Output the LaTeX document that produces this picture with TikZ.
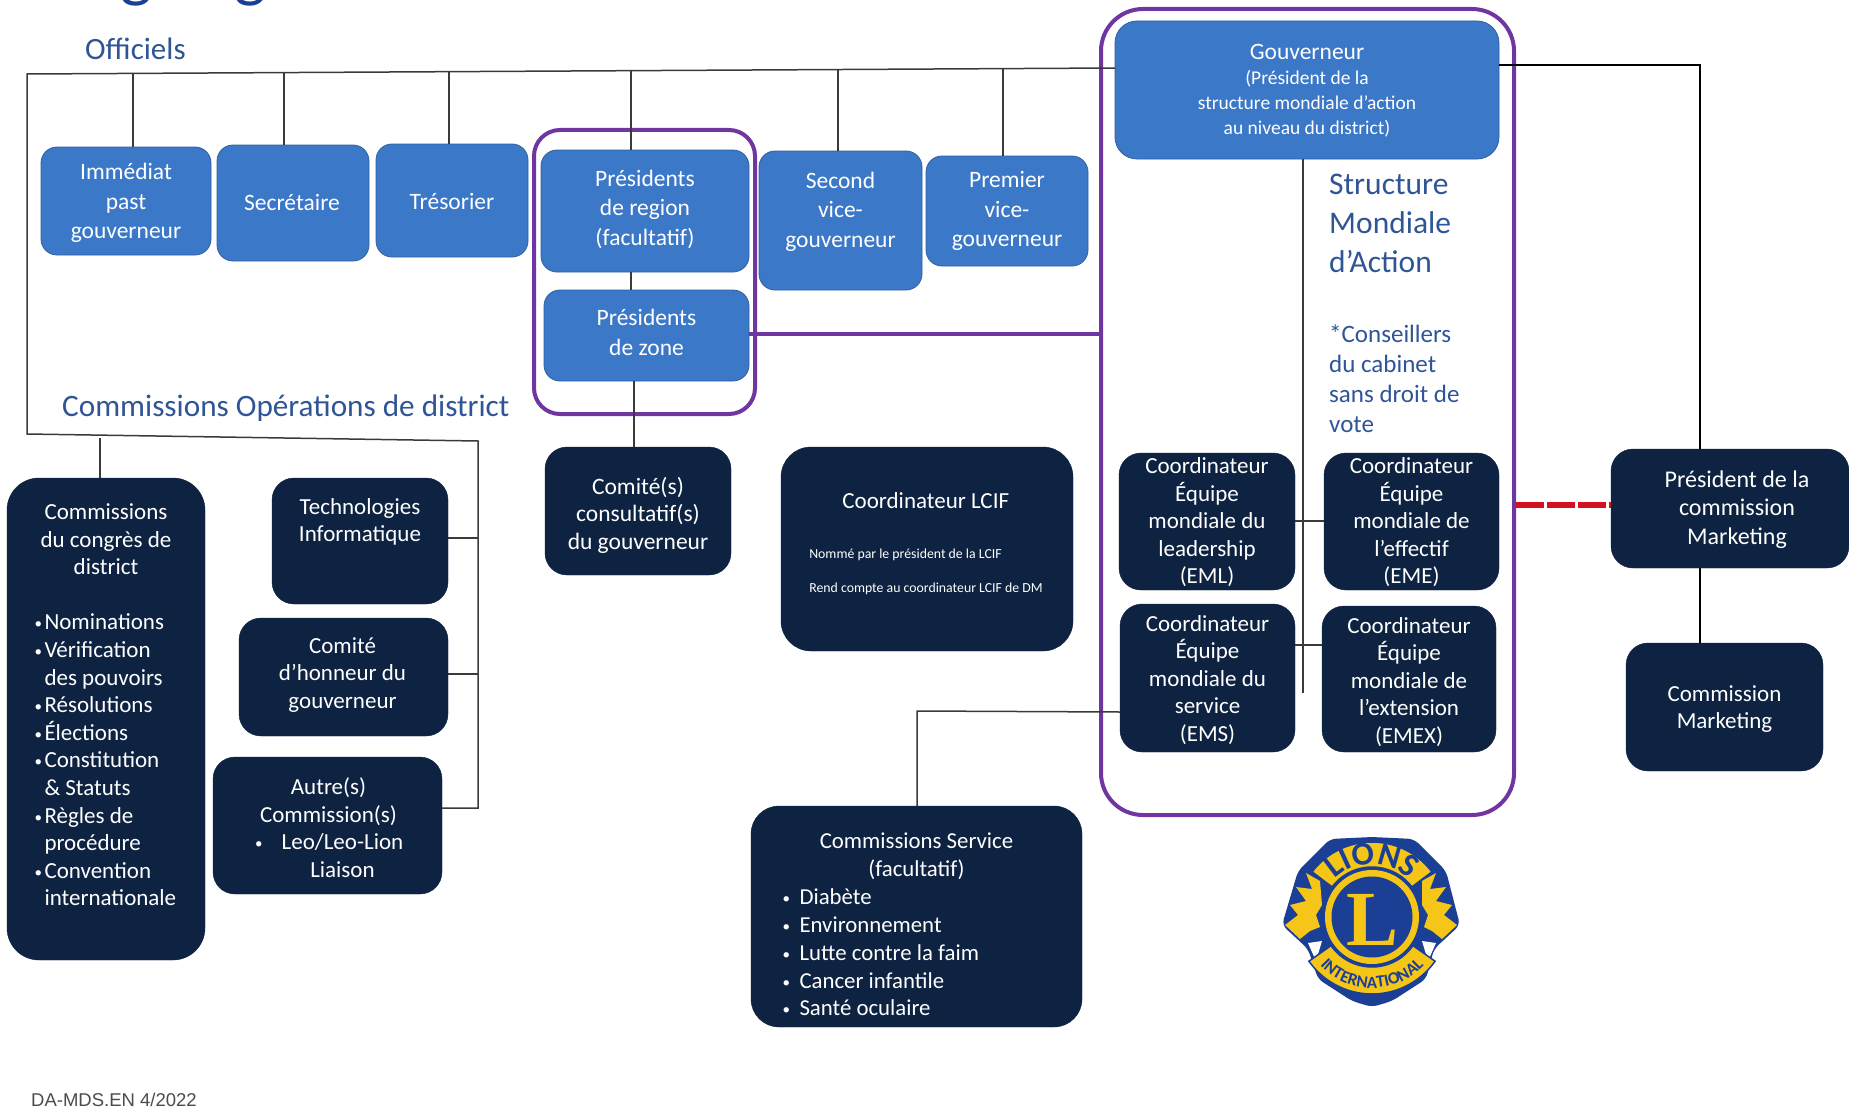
\documentclass[tikz,border=0pt]{standalone}
\usepackage{fontspec}
\setmainfont{Carlito}
\newfontfamily\footfont{Liberation Sans}
\newfontfamily\logofont{Liberation Serif}
\usetikzlibrary{decorations.text,calc}
\definecolor{bleubox}{HTML}{3B78C8}
\definecolor{nuit}{HTML}{0E2241}
\definecolor{violet}{HTML}{6F35A0}
\definecolor{titre}{HTML}{2F5597}
\definecolor{trait}{HTML}{3A3A3A}
\definecolor{rouge}{HTML}{D5101F}
\definecolor{lionb}{HTML}{1B3F94}
\definecolor{liony}{HTML}{F5C518}
\newcommand{\fs}[2]{\fontsize{#1}{#2}\selectfont}
\newcommand{\puce}[1]{\makebox[#1][l]{\raisebox{1pt}{\fs{15}{15}•}}}
\tikzset{
  bleu/.style={fill=bleubox,draw=bleubox!80!black,line width=0.8pt,rounded corners=16pt},
  sombre/.style={fill=nuit,draw=nuit,rounded corners=22pt},
  texte/.style={text=white,align=center,inner sep=0pt,font=\fs{23.5}{29.5}},
  textenuit/.style={text=white,align=center,inner sep=0pt,font=\fs{23}{27.5}},
  lien/.style={draw=trait,line width=1.5pt},
  lienn/.style={draw=black,line width=1.5pt},
  cadre/.style={draw=violet,line width=4pt},
  bleutitre/.style={text=titre,inner sep=0pt,anchor=west},
}
% name, style, x1,y1,x2,y2, dx,dy, text style, text
\newcommand{\boite}[9]{%
  \pgfmathsetmacro{\cxx}{(#3+#5)/2}\pgfmathsetmacro{\cyy}{(#4+#6)/2}%
  \pgfmathsetmacro{\www}{#5-#3}\pgfmathsetmacro{\hhh}{#6-#4}%
  \node[#2,minimum width=\www pt,minimum height=\hhh pt,inner sep=0pt,outer sep=0pt] (#1) at (\cxx,\cyy) {};%
  \node[#9] (#1-t) at ($(\cxx,\cyy)+(#7,#8)$)}
\begin{document}
\begin{tikzpicture}[x=1pt,y=-1pt]
\useasboundingbox (0,0) rectangle (1849,1113);
\fill[white] (0,0) rectangle (1849,1113);

% title, cut by the top of the page
\begin{scope}
\clip (0,0) rectangle (1849,30);
\node[text=lionb,inner sep=0pt,anchor=base west,font=\fs{68}{68}] (titreprincipal) at (52,-5) {Organigramme du cabinet de district};
\end{scope}

% boxes, blue
\boite{imm}{bleu}{41}{147}{211}{255}{0}{2}{texte}{Immédiat\\past\\gouverneur};
\boite{sec}{bleu}{217}{145}{369}{261}{-1}{0}{texte}{Secrétaire};
\boite{tres}{bleu}{376}{144}{528}{257}{0}{1}{texte}{Trésorier};
\boite{preg}{bleu}{541}{150}{749}{272}{0}{-2}{texte}{Présidents\\de region\\(facultatif)};
\boite{pzone}{bleu}{544}{290}{749}{381}{0}{-3}{texte}{Présidents\\de zone};
\boite{second}{bleu}{759}{151}{922}{290}{0}{-9}{texte}{Second\\vice-\\gouverneur};
\boite{premier}{bleu}{926}{156}{1088}{266}{0}{0}{texte}{Premier\\vice-\\gouverneur};
\boite{gouv}{bleu,rounded corners=22pt}{1115}{21}{1499}{159}{0}{1}{texte,font=\fs{19.5}{25}}{{\fs{23.5}{25}Gouverneur}\\(Président de la\\structure mondiale d’action\\au niveau du district)};

% boxes, dark
\boite{comite}{sombre}{545}{447}{731}{575}{0}{4}{textenuit,font=\fs{23.5}{27.5}}{Comité(s)\\consultatif(s)\\du gouverneur};
\boite{lcif}{sombre,rounded corners=30pt}{781}{447}{1073}{651}{-1}{-5}{textenuit,align=left,font=\fs{13.8}{17}}{\makebox[233pt][c]{\fs{23}{24}Coordinateur LCIF}\\[33pt]Nommé par le président de la LCIF\\[17pt]Rend compte au coordinateur LCIF de DM};
\boite{eml}{sombre}{1119}{453}{1295}{590}{0}{1}{textenuit}{Coordinateur\\Équipe\\mondiale du\\leadership\\(EML)};
\boite{eme}{sombre}{1324}{453}{1499}{590}{0}{1}{textenuit}{Coordinateur\\Équipe\\mondiale de\\l’effectif\\(EME)};
\boite{ems}{sombre}{1120}{604}{1295}{752}{0}{2}{textenuit}{Coordinateur\\Équipe\\mondiale du\\service\\(EMS)};
\boite{emex}{sombre}{1322}{606}{1496}{752}{0}{3}{textenuit}{Coordinateur\\Équipe\\mondiale de\\l’extension\\(EMEX)};
\boite{presm}{sombre}{1611}{449}{1849}{568}{7}{1}{texte,font=\fs{24}{28.5}}{Président de la\\commission\\Marketing};
\boite{commm}{sombre}{1626}{643}{1823}{771}{0}{2}{textenuit}{Commission\\Marketing};
\boite{congres}{sombre,rounded corners=32pt}{7}{478}{205}{960}{0}{-14}{textenuit,align=left,font=\fs{23}{27.6}}{\makebox[143pt][c]{Commissions}\\\makebox[143pt][c]{du congrès de}\\\makebox[143pt][c]{district}\\[27.4pt]\puce{10pt}Nominations\\\puce{10pt}Vérification\\\hspace*{10pt}des pouvoirs\\\puce{10pt}Résolutions\\\puce{10pt}Élections\\\puce{10pt}Constitution\\\hspace*{10pt}\&\ Statuts\\\puce{10pt}Règles de\\\hspace*{10pt}procédure\\\puce{10pt}Convention\\\hspace*{10pt}internationale};
\boite{tech}{sombre}{272}{478}{448}{604}{0}{-19}{textenuit}{Technologies\\Informatique};
\boite{honneur}{sombre}{239}{618}{448}{736}{-1}{-2}{textenuit}{Comité\\d’honneur du\\gouverneur};
\boite{autre}{sombre}{213}{757}{442}{894}{1}{2}{textenuit}{Autre(s)\\Commission(s)\\\hspace*{28pt}\llap{\raisebox{1pt}{\fs{15}{15}•}\hspace{19pt}}Leo/Leo-Lion\\\hspace*{28pt}Liaison};
\boite{service}{sombre,rounded corners=28pt}{751}{806}{1082}{1027}{0}{8}{textenuit,align=left,font=\fs{22.8}{27.9}}{\makebox[268pt][c]{Commissions Service}\\\makebox[268pt][c]{(facultatif)}\\\puce{17pt}Diabète\\\puce{17pt}Environnement\\\puce{17pt}Lutte contre la faim\\\puce{17pt}Cancer infantile\\\puce{17pt}Santé oculaire};

% purple frames
\node[cadre,rounded corners=26pt,minimum width=221pt,minimum height=284pt,inner sep=0pt] (cadrezone) at (644.5,272) {};
\node[cadre,rounded corners=42pt,minimum width=413pt,minimum height=806pt,inner sep=0pt] (cadresma) at (1307.5,412) {};

% free texts
\node[bleutitre,font=\fs{31}{31}] (officiels) at (85,49) {Officiels};
\node[bleutitre,font=\fs{31.2}{31}] (opdistrict) at (62,408) {Commissions Opérations de district};
\node[bleutitre,font=\fs{31.5}{39},align=left,anchor=north west] (sma) at (1329,174) {Structure\\Mondiale\\d’Action};
\node[bleutitre,font=\fs{25}{30},align=left,anchor=north west] (conseil) at (1329,325) {*Conseillers\\du cabinet\\sans droit de\\vote};
\node[inner sep=0pt,anchor=west,text=black!70,font=\footfont\fs{18.5}{19}] (pied) at (31,1100) {DA-MDS.EN 4/2022};

% connectors
\coordinate (topg) at (27,74);
\coordinate (basg) at (27,434);
\coordinate (bass) at (478,441);
\coordinate (bascong) at (100,438);
\coordinate (b1) at (133,73);
\coordinate (b2) at (284,72);
\coordinate (b3) at (449,72);
\coordinate (b4) at (631,71);
\coordinate (b5) at (838,70);
\coordinate (b6) at (1003,69);
\coordinate (coude1) at (478,808);
\coordinate (gbas) at (1303,693);
\coordinate (gdroit) at (1700,65);
\coordinate (coudeserv) at (917,711);
\draw[lien] (gouv.west |- 0,68) -- (topg) -- (basg) -- (bass) -- (coude1) -- (coude1 -| autre.east);
\draw[lien] (bascong) -- (bascong |- congres.north);
\draw[lien] (b1) -- (b1 |- imm.north);
\draw[lien] (b2) -- (b2 |- sec.north);
\draw[lien] (b3) -- (b3 |- tres.north);
\draw[lien] (b4) -- (b4 |- preg.north);
\draw[lien] (b5) -- (b5 |- second.north);
\draw[lien] (b6) -- (b6 |- premier.north);
\draw[lien] (tech.east |- 0,538) -- (bass |- 0,538);
\draw[lien] (honneur.east |- 0,674) -- (bass |- 0,674);
\draw[lien] (b4 |- preg.south) -- (b4 |- pzone.north);
\draw[lien] (634,381) -- (634,447);
\draw[lien] (gbas |- gouv.south) -- (gbas);
\draw[lien] (eml.east |- 0,521) -- (eme.west |- 0,521);
\draw[lien] (ems.east |- 0,645) -- (emex.west |- 0,645);
\draw[lien] (ems.west |- 0,712) -- (coudeserv) -- (coudeserv |- service.north);
\draw[lienn] (gouv.east |- gdroit) -- (gdroit) -- (gdroit |- presm.north);
\draw[lienn] (gdroit |- presm.south) -- (gdroit |- commm.north);
\draw[cadre] (pzone.east |- 0,334) -- (cadresma.west |- 0,334);
\draw[draw=rouge,line width=5.5pt,dash pattern=on 28pt off 3pt] (cadresma.east |- 0,505) -- (presm.west |- 0,505);

% logo
\begin{scope}[shift={(1372,917)},x=1pt,y=1pt]
  \fill[lionb,rounded corners=6pt] (-90,-8) -- (-74,46) -- (-42,78) -- (0,80) -- (42,78) -- (74,46) -- (88,-8) -- (62,-32) -- (54,-62) -- (20,-84) -- (0,-90) -- (-20,-84) -- (-54,-62) -- (-64,-32) -- cycle;
  % manes
  \fill[liony] (-87,-8) -- (-74,2) -- (-82,12) -- (-66,16) -- (-76,30) -- (-60,28) -- (-66,44) -- (-52,36) -- (-50,12) -- (-56,2) -- (-52,-10) -- (-62,-14) -- (-72,-22) -- cycle;
  \fill[liony] (85,-8) -- (72,2) -- (80,12) -- (64,16) -- (74,30) -- (58,28) -- (64,44) -- (50,36) -- (50,12) -- (56,2) -- (52,-10) -- (60,-14) -- (70,-22) -- cycle;
  \fill[white] (-64,-26) -- (-50,-24) -- (-56,-44) -- cycle;
  \fill[white] (64,-26) -- (50,-24) -- (56,-44) -- cycle;
  % bands
  \fill[liony,draw=lionb,line width=1.5pt] (143:50) arc (143:37:50) -- (37:75) arc (37:143:75) -- cycle;
  \fill[liony,draw=lionb,line width=1.5pt] (215:50) arc (215:325:50) -- (325:77) arc (325:215:77) -- cycle;
  \fill[lionb] (0,0) circle (49);
  \fill[liony] (0,0) circle (47);
  \fill[lionb] (0,0) circle (40.5);
  \node[text=liony,inner sep=0pt,font=\logofont\bfseries\fs{78}{78}] (lettrel) at (0,-3) {L};
  \path[decorate,decoration={text along path,text align=center,text={|\bfseries\fs{33}{33}\color{lionb}|LIONS}}] (150:53) arc (150:30:53);
  \path[decorate,decoration={text along path,text align=center,text={|\bfseries\fs{17}{17}\color{lionb}|INTERNATIONAL}}] (214:71) arc (214:326:71);
\end{scope}
\end{tikzpicture}
\end{document}
